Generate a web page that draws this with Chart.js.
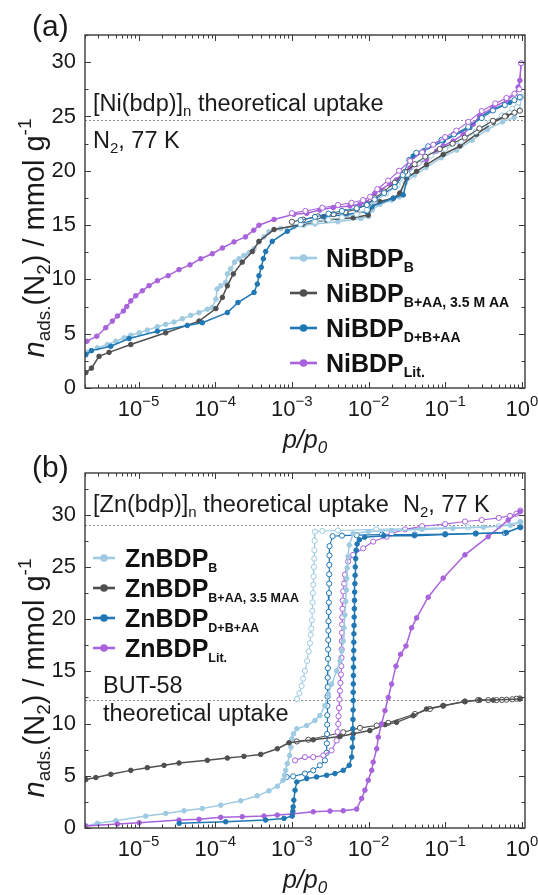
<!DOCTYPE html>
<html><head><meta charset="utf-8">
<script src="https://cdn.jsdelivr.net/npm/chart.js@4.4.1/dist/chart.umd.min.js"></script>
<style>
html,body{margin:0;padding:0;background:#fff;}
#wrap{position:relative;width:538px;height:895px;overflow:hidden;background:#fff}
canvas{position:absolute;left:0}
</style></head><body>
<div id="wrap">
<canvas id="chartA" width="538" height="462" style="top:0px;z-index:1"></canvas>
<canvas id="chartB" width="538" height="448" style="top:447px;z-index:2"></canvas>
</div>
<script>
// ---------- DATA (p/p0, n in mmol/g) ----------
// Panel (a) NiBDP
const niB_ads = [[2.15e-6,3.28],[2.90e-6,3.69],[3.92e-6,4.00],[5.05e-6,4.30],[6.47e-6,4.62],[7.91e-6,4.86],[1.02e-5,5.08],[1.30e-5,5.33],[1.76e-5,5.64],[2.26e-5,5.86],[2.90e-5,6.07],[3.72e-5,6.38],[4.79e-5,6.69],[6.15e-5,6.94],[7.89e-5,7.25],[9.16e-5,7.41],[1.02e-4,8.18],[1.06e-4,9.11],[1.18e-4,9.41],[1.37e-4,9.73],[1.44e-4,10.50],[1.59e-4,10.97],[1.79e-4,11.59],[2.04e-4,11.90],[2.37e-4,12.20],[2.76e-4,12.45],[3.21e-4,12.83],[3.72e-4,13.45],[4.32e-4,13.91],[5.02e-4,14.38],[7.14e-4,14.68],[1.06e-3,14.84],[1.44e-3,14.99],[2.0e-3,15.1],[3.98e-3,15.3],[7.94e-3,15.6],[1.0e-2,15.8],[1.12e-2,16.4],[1.41e-2,16.9],[2.0e-2,17.3],[2.51e-2,17.6],[3.02e-2,18.9],[3.98e-2,19.6],[5.62e-2,20.3],[8.91e-2,21.2],[0.141,21.9],[0.224,22.8],[0.355,23.8],[0.562,24.5],[0.794,24.9],[0.933,25.6],[0.977,26.8]];
const niB_des = [[0.977,26.8],[0.9,26.3],[0.75,25.7],[0.55,25.1],[0.38,24.4],[0.25,23.6],[0.16,22.7],[0.1,22.0],[0.065,21.4],[0.045,20.7],[0.032,19.7],[0.024,18.7],[0.017,17.9],[0.012,17.2],[0.0095,16.4],[0.007,16.0],[0.0045,15.7],[0.003,15.5],[0.002,15.3],[0.0013,15.1]];
const niAA_ads = [[2.05e-6,1.42],[2.43e-6,1.83],[3.05e-6,2.91],[4.12e-6,3.28],[7.91e-6,4.00],[2.26e-5,5.08],[6.15e-5,6.16],[1.02e-4,7.31],[1.24e-4,8.34],[1.44e-4,9.41],[1.72e-4,10.50],[2.25e-4,11.59],[3.05e-4,12.57],[3.72e-4,13.50],[5.85e-4,14.59],[1.37e-3,15.08],[2.84e-3,15.46],[6.31e-3,15.68],[9.91e-3,15.92],[1.10e-2,16.70],[1.40e-2,17.17],[2.10e-2,17.47],[2.56e-2,17.94],[3.14e-2,19.33],[4.24e-2,19.95],[5.71e-2,20.57],[9.42e-2,21.50],[0.156,22.28],[0.256,23.36],[0.423,24.44],[0.632,25.06],[0.942,25.53]];
const niAA_des = [[0.942,25.53],[0.8,25.35],[0.6,25.0],[0.42,24.6],[0.28,23.9],[0.18,23.05],[0.125,22.5],[0.085,22.0],[0.055,21.3],[0.04,20.6],[0.03,19.9],[0.022,18.9],[0.016,18.1],[0.012,17.5],[0.0095,16.9],[0.007,16.45],[0.005,16.2],[0.0035,16.0],[0.0022,15.8],[0.0014,15.5],[0.001,15.3]];
const niDBA_ads = [[2.05e-6,3.07],[2.43e-6,3.44],[4.34e-6,3.84],[7.52e-6,4.55],[1.76e-5,5.23],[4.32e-5,5.76],[6.79e-5,6.01],[1.44e-4,6.94],[1.98e-4,7.87],[3.21e-4,8.80],[3.54e-4,9.57],[3.72e-4,10.34],[3.99e-4,11.12],[4.24e-4,11.90],[4.55e-4,12.57],[5.55e-4,13.50],[8.71e-4,14.43],[1.30e-3,15.06],[2.56e-3,15.77],[5.18e-3,15.98],[9.44e-3,16.24],[1.10e-2,16.70],[2.10e-2,17.47],[2.84e-2,17.78],[3.30e-2,19.64],[3.83e-2,21.35],[5.16e-2,21.81],[9.42e-2,22.74],[0.210,23.98],[0.283,24.91],[0.423,25.68],[0.697,26.30],[0.942,26.77]];
const niDBA_des = [[0.942,26.77],[0.8,26.5],[0.6,26.05],[0.42,25.55],[0.3,24.85],[0.2,24.05],[0.13,23.35],[0.09,22.85],[0.06,22.25],[0.042,21.65],[0.034,21.0],[0.028,19.6],[0.022,18.5],[0.016,17.95],[0.012,17.35],[0.0095,16.85],[0.007,16.55],[0.0045,16.3],[0.003,16.05],[0.002,15.75],[0.0013,15.45]];
const niLit_ads = [[2.11e-6,4.30],[2.85e-6,4.77],[3.73e-6,5.55],[4.55e-6,6.16],[5.30e-6,6.63],[6.34e-6,7.09],[7.01e-6,7.50],[7.91e-6,8.02],[9.18e-6,8.49],[1.12e-5,8.95],[1.37e-5,9.42],[1.76e-5,9.88],[2.43e-5,10.34],[3.37e-5,10.90],[4.69e-5,11.34],[6.47e-5,11.90],[9.16e-5,12.36],[1.24e-4,12.89],[1.76e-4,13.45],[2.48e-4,13.91],[3.18e-4,14.53],[3.72e-4,14.99],[5.85e-4,15.52],[1.06e-3,15.99],[1.56e-3,16.08],[2.32e-3,16.38],[3.47e-3,16.61],[5.71e-3,16.76],[7.71e-3,16.91],[9.44e-3,17.10],[1.10e-2,17.63],[1.21e-2,17.94],[1.41e-2,18.24],[1.90e-2,18.77],[2.32e-2,19.17],[2.83e-2,19.80],[3.47e-2,20.26],[4.24e-2,20.57],[5.71e-2,21.03],[7.73e-2,21.81],[9.42e-2,22.28],[0.127,22.74],[0.172,23.36],[0.232,24.28],[0.283,25.07],[0.423,25.84],[0.632,26.46],[0.811,27.07],[0.895,27.70],[0.942,28.32],[0.977,29.9]];
const niLit_des = [[0.977,29.9],[0.93,27.5],[0.8,27.1],[0.63,26.7],[0.45,26.2],[0.3,25.5],[0.2,24.5],[0.14,23.7],[0.1,23.1],[0.07,22.4],[0.05,21.7],[0.035,20.9],[0.025,20.0],[0.018,19.1],[0.013,18.3],[0.0105,17.6],[0.0085,17.3],[0.006,17.05],[0.004,16.85],[0.0025,16.6],[0.0015,16.3],[0.001,16.1]];

// Panel (b) ZnBDP
const znB_ads = [[2.05e-6,0.19],[2.90e-6,0.45],[5.05e-6,0.70],[1.24e-5,1.14],[2.26e-5,1.40],[3.92e-5,1.65],[6.79e-5,1.87],[1.18e-4,2.19],[2.15e-4,2.60],[3.54e-4,3.08],[5.02e-4,3.56],[6.46e-4,4.00],[7.66e-4,4.57],[8.05e-4,5.05],[8.30e-4,5.52],[8.71e-4,6.16],[9.35e-4,6.95],[9.73e-4,7.74],[1.0e-3,8.54],[1.05e-3,9.02],[1.16e-3,9.50],[1.56e-3,9.81],[2.00e-3,10.29],[2.32e-3,10.76],[2.70e-3,11.71],[2.99e-3,12.83],[3.30e-3,13.78],[3.84e-3,15.05],[4.24e-3,16.0],[4.46e-3,16.95],[4.68e-3,17.9],[4.78e-3,19.17],[4.92e-3,20.4],[5.04e-3,21.7],[5.13e-3,22.8],[5.20e-3,23.9],[5.27e-3,24.9],[5.40e-3,26.0],[5.60e-3,27.1],[6.31e-3,28.2],[1.0e-2,28.4],[2.0e-2,28.5],[5.0e-2,28.6],[0.126,28.7],[0.316,28.8],[0.708,29.0],[0.955,29.3]];
const znB_des = [[0.955,29.3],[0.5,28.9],[0.2,28.8],[0.05,28.7],[0.0126,28.6],[0.004,28.5],[0.0025,28.45],[2.0e-3,28.38],[1.98e-3,27.5],[1.97e-3,26.6],[1.96e-3,25.8],[1.94e-3,25.0],[1.92e-3,24.1],[1.90e-3,23.3],[1.88e-3,22.5],[1.86e-3,21.6],[1.85e-3,20.8],[1.82e-3,19.9],[1.79e-3,19.1],[1.76e-3,18.5],[1.72e-3,17.7],[1.66e-3,16.9],[1.58e-3,16.0],[1.48e-3,15.05],[1.40e-3,14.3],[1.34e-3,13.6],[1.25e-3,12.9],[1.17e-3,12.35]];
const znAA_ads = [[2.05e-6,4.64],[2.77e-6,4.83],[4.34e-6,5.14],[7.91e-6,5.52],[1.30e-5,5.78],[2.15e-5,6.00],[3.37e-5,6.22],[7.89e-5,6.48],[1.44e-4,6.70],[2.37e-4,6.86],[3.92e-4,7.05],[6.46e-4,7.59],[9.16e-4,8.16],[1.90e-3,8.45],[4.24e-3,8.76],[6.31e-3,9.02],[1.04e-2,9.33],[1.64e-2,9.90],[2.32e-2,10.12],[3.83e-2,10.76],[5.71e-2,11.40],[9.42e-2,11.71],[0.181,12.12],[0.283,12.25],[0.423,12.25],[0.942,12.35]];
const znAA_des = [[0.942,12.41],[0.85,12.38],[0.75,12.33],[0.632,12.29],[0.55,12.27],[0.468,12.25],[0.364,12.25],[0.269,12.25],[0.181,12.12],[0.0942,11.71],[0.0632,11.40],[0.0403,10.92],[0.0181,10.07],[0.0128,9.81],[0.00773,9.59],[0.00468,9.17],[0.00164,8.45],[0.00116,8.29]];
const znDBA_ads = [[3.39e-5,0.45],[1.37e-4,0.60],[4.55e-4,0.76],[7.89e-4,0.92],[1.01e-3,1.14],[1.03e-3,1.6],[1.04e-3,2.03],[1.06e-3,2.67],[1.10e-3,3.62],[1.16e-3,4.41],[1.56e-3,4.73],[2.10e-3,4.89],[2.84e-3,5.05],[3.65e-3,5.21],[4.68e-3,5.52],[5.60e-3,6.0],[6.03e-3,6.79],[6.14e-3,7.74],[6.21e-3,8.6],[6.24e-3,9.5],[6.27e-3,10.4],[6.29e-3,11.3],[6.31e-3,12.2],[6.31e-3,13.0],[6.33e-3,13.8],[6.35e-3,14.6],[6.37e-3,15.4],[6.39e-3,16.2],[6.41e-3,17.0],[6.43e-3,17.8],[6.45e-3,18.6],[6.47e-3,19.4],[6.50e-3,20.2],[6.53e-3,21.0],[6.56e-3,21.8],[6.60e-3,22.6],[6.64e-3,23.4],[6.68e-3,24.2],[6.72e-3,25.0],[6.80e-3,25.8],[6.90e-3,26.6],[7.1e-3,27.2],[7.6e-3,27.6],[8.91e-3,27.85],[1.58e-2,28.0],[3.98e-2,28.0],[0.1,28.1],[0.251,28.2],[0.631,28.3],[0.955,28.8]];
const znDBA_des = [[0.955,28.8],[0.6,28.25],[0.25,28.2],[0.1,28.15],[0.04,28.1],[0.015,28.1],[0.007,28.05],[0.0045,28.0],[0.0034,27.95],[3.10e-3,27.0],[3.09e-3,26.1],[3.08e-3,25.2],[3.07e-3,24.3],[3.06e-3,23.4],[3.05e-3,22.5],[3.04e-3,21.6],[3.02e-3,20.7],[3.00e-3,19.8],[2.99e-3,18.9],[2.98e-3,18.0],[2.97e-3,17.1],[2.96e-3,16.2],[2.95e-3,15.3],[2.94e-3,14.4],[2.93e-3,13.5],[2.92e-3,12.6],[2.91e-3,11.7],[2.90e-3,10.8],[2.89e-3,9.9],[2.88e-3,9.0],[2.86e-3,8.1],[2.84e-3,7.2],[2.70e-3,6.48],[2.32e-3,6.0],[1.90e-3,5.52],[1.48e-3,5.21],[1.04e-3,4.95],[8.55e-4,4.89]];
const znLit_ads = [[2.05e-6,0.19],[5.30e-6,0.38],[1.02e-5,0.51],[3.37e-5,0.76],[6.15e-5,0.83],[1.18e-4,1.02],[2.25e-4,1.08],[4.32e-4,1.14],[6.46e-4,1.24],[1.01e-3,1.33],[1.90e-3,1.55],[3.14e-3,1.62],[4.68e-3,1.65],[7.00e-3,1.81],[8.13e-3,2.83],[8.97e-3,3.62],[9.91e-3,4.57],[1.10e-2,5.52],[1.15e-2,6.31],[1.28e-2,7.59],[1.34e-2,8.70],[1.48e-2,9.97],[1.64e-2,11.24],[1.81e-2,12.5],[2.00e-2,13.78],[2.28e-2,15.5],[2.62e-2,16.64],[3.08e-2,17.43],[3.65e-2,19.17],[4.24e-2,20.12],[6.00e-2,22.1],[9.42e-2,23.93],[0.181,26.16],[0.364,27.9],[0.664,29.49],[0.955,30.3]];
const znLit_des = [[0.955,30.4],[0.85,30.1],[0.7,29.9],[0.5,29.7],[0.3,29.5],[0.181,29.35],[0.1,29.1],[0.05,28.9],[0.03,28.6],[0.02,28.2],[0.0172,27.9],[0.0115,27.43],[0.00853,26.79],[0.00631,26.16],[0.00543,25.52],[4.92e-3,24.26],[4.80e-3,23.4],[4.68e-3,22.67],[4.62e-3,21.8],[4.57e-3,21.0],[4.54e-3,20.2],[4.52e-3,19.5],[4.50e-3,18.7],[4.48e-3,17.9],[4.46e-3,17.1],[4.44e-3,16.3],[4.42e-3,15.5],[4.37e-3,14.7],[4.30e-3,13.9],[4.24e-3,13.14],[4.18e-3,12.3],[4.12e-3,11.5],[4.06e-3,10.7],[4.03e-3,9.97],[3.95e-3,9.2],[3.84e-3,8.38],[3.30e-3,7.43],[2.57e-3,6.95],[1.90e-3,6.79],[1.48e-3,6.79],[1.10e-3,6.48]];

// axes / labels
const xTickExponents = [-5, -4, -3, -2, -1, 0];
const yTickValues = [0, 5, 10, 15, 20, 25, 30];
const legendBase_a = 'NiBDP';
const legendSubs_a = ['B', 'B+AA, 3.5 M AA', 'D+B+AA', 'Lit.'];
const legendBase_b = 'ZnBDP';
const legendSubs_b = ['B', 'B+AA, 3.5 MAA', 'D+B+AA', 'Lit.'];
const refLines_a = [24.7];
const refLines_b = [29.0, 12.3];

// ---------- STYLE ----------
const FONT = "'Liberation Sans', Arial, Helvetica, sans-serif";
const C_LB = '#9ecae2', C_GR = '#4f4f4f', C_BL = '#1f77b4', C_PU = '#a862dc';
const COLORS = [C_LB, C_GR, C_BL, C_PU];
const TXT = '#1a1a1a', FRAME = '#3a3a3a';
const X_MIN = 2.0e-6, X_MAX = 1.1;

const toPts = arr => arr.map(([p, n]) => ({ x: p, y: n }));
function series(arr, color, open, order) {
  return {
    data: toPts(arr), showLine: true, tension: 0, order,
    borderColor: color, backgroundColor: open ? '#ffffff' : color,
    pointBackgroundColor: open ? '#ffffff' : color, pointBorderColor: color,
    pointRadius: open ? 2.6 : 2.3, pointBorderWidth: 1, pointHoverRadius: 0,
    borderWidth: open ? 1.1 : 1.5
  };
}
const f = (size, style) => (style ? style + ' ' : '') + size + 'px ' + FONT;

function drawRich(ctx, x, y, parts, align) {
  let w = 0;
  for (const p of parts) { ctx.font = p.f; w += ctx.measureText(p.t).width; }
  let cx = align === 'center' ? x - w / 2 : (align === 'right' ? x - w : x);
  ctx.textAlign = 'left'; ctx.textBaseline = 'alphabetic';
  for (const p of parts) { ctx.font = p.f; ctx.fillText(p.t, cx, y + (p.dy || 0)); cx += ctx.measureText(p.t).width; }
}

const PANELS = {
  chartA: {
    letter: '(a)', letterY: 36, refLines: refLines_a, yTitleCenter: 238,
    texts: [
      { x: 93, y: 111, parts: [{ t: '[Ni(bdp)]', f: f(23.5) }, { t: 'n', f: f(15), dy: 5 }, { t: ' theoretical uptake', f: f(23.5) }] },
      { x: 93, y: 148, parts: [{ t: 'N', f: f(23.5) }, { t: '2', f: f(15), dy: 5 }, { t: ', 77 K', f: f(23.5) }] }
    ],
    legend: { rows: [258, 293, 328, 363], x0: 290, x1: 317, tx: 326, base: legendBase_a, subs: legendSubs_a, mainSize: 25, subSize: 14 }
  },
  chartB: {
    letter: '(b)', letterY: 30, refLines: refLines_b, yTitleCenter: 231,
    texts: [
      { x: 93, y: 65, parts: [{ t: '[Zn(bdp)]', f: f(23.5) }, { t: 'n', f: f(15), dy: 5 }, { t: ' theoretical uptake', f: f(23.5) }] },
      { x: 403, y: 65, parts: [{ t: 'N', f: f(23.5) }, { t: '2', f: f(15), dy: 5 }, { t: ', 77 K', f: f(23.5) }] },
      { x: 103, y: 246, parts: [{ t: 'BUT-58', f: f(23.5) }] },
      { x: 103, y: 274, parts: [{ t: 'theoretical uptake', f: f(23.5) }] }
    ],
    legend: { rows: [111, 141, 171, 201], x0: 93, x1: 115, tx: 125, base: legendBase_b, subs: legendSubs_b, mainSize: 25, subSize: 12.5 }
  }
};

function seg(ctx, x1, y1, x2, y2) { ctx.beginPath(); ctx.moveTo(x1, y1); ctx.lineTo(x2, y2); ctx.stroke(); }

const panelPlugin = {
  id: 'panelDecor',
  beforeDatasetsDraw(chart) {
    const P = PANELS[chart.canvas.id]; const { ctx, chartArea: a } = chart; const y = chart.scales.y;
    ctx.save(); ctx.strokeStyle = '#8c8c8c'; ctx.lineWidth = 1; ctx.setLineDash([2, 2]);
    for (const v of P.refLines) { const py = Math.round(y.getPixelForValue(v)) + 0.5; seg(ctx, a.left, py, a.right, py); }
    ctx.restore();
  },
  afterDraw(chart) {
    const P = PANELS[chart.canvas.id]; const { ctx, chartArea: a } = chart; const x = chart.scales.x, y = chart.scales.y;
    ctx.save();
    // frame
    ctx.strokeStyle = FRAME; ctx.lineWidth = 1.4; ctx.setLineDash([]);
    ctx.strokeRect(a.left, a.top, a.right - a.left, a.bottom - a.top);
    // inward ticks
    ctx.lineWidth = 1;
    for (let k = -6; k <= 0; k++) for (let m = 1; m <= 9; m++) {
      const v = m * Math.pow(10, k); if (v < X_MIN || v > X_MAX) continue;
      const px = Math.round(x.getPixelForValue(v)) + 0.5; const L = m === 1 ? 6 : 3.5;
      seg(ctx, px, a.bottom, px, a.bottom - L); seg(ctx, px, a.top, px, a.top + L);
    }
    for (let v = 0; v <= y.max; v += 2.5) {
      const py = Math.round(y.getPixelForValue(v)) + 0.5; const L = (v % 5 === 0) ? 6 : 3.5;
      seg(ctx, a.left, py, a.left + L, py); seg(ctx, a.right, py, a.right - L, py);
    }
    // x tick labels
    ctx.fillStyle = TXT;
    for (const e of xTickExponents) {
      const px = x.getPixelForValue(Math.pow(10, e));
      const sup = e === 0 ? '0' : '\u2212' + Math.abs(e);
      drawRich(ctx, px, a.bottom + 28, [{ t: '10', f: f(22) }, { t: sup, f: f(15), dy: -10 }], 'center');
    }
    // x title
    drawRich(ctx, (a.left + a.right) / 2, a.bottom + 60, [{ t: 'p/p', f: f(25, 'italic') }, { t: '0', f: f(17, 'italic'), dy: 5 }], 'center');
    // y title
    ctx.save(); ctx.translate(44, P.yTitleCenter); ctx.rotate(-Math.PI / 2);
    drawRich(ctx, 0, 0, [{ t: 'n', f: f(29, 'italic') }, { t: 'ads.', f: f(19), dy: 6 }, { t: '(N', f: f(29) }, { t: '2', f: f(19), dy: 6 }, { t: ') / mmol g', f: f(29) }, { t: '-1', f: f(19), dy: -13 }], 'center');
    ctx.restore();
    // panel letter
    drawRich(ctx, 32, P.letterY, [{ t: P.letter, f: f(30) }], 'left');
    // annotations
    for (const T of P.texts) drawRich(ctx, T.x, T.y, T.parts, 'left');
    // legend
    const L = P.legend;
    L.rows.forEach((yc, i) => {
      ctx.strokeStyle = COLORS[i]; ctx.lineWidth = 2.6; seg(ctx, L.x0, yc, L.x1, yc);
      ctx.fillStyle = COLORS[i]; ctx.beginPath(); ctx.arc((L.x0 + L.x1) / 2, yc, 3.8, 0, Math.PI * 2); ctx.fill();
      ctx.fillStyle = '#111';
      drawRich(ctx, L.tx, yc + 8.5, [{ t: L.base, f: f(L.mainSize, 'bold') }, { t: L.subs[i], f: f(L.subSize, 'bold'), dy: 5 }], 'left');
    });
    ctx.restore();
  }
};

function makeChart(id, datasets, top, xh, ymax) {
  return new Chart(document.getElementById(id), {
    type: 'scatter',
    data: { datasets },
    options: {
      responsive: false, animation: false, devicePixelRatio: 1, events: [],
      layout: { padding: { left: 0, right: 13, top: top, bottom: 0 } },
      plugins: { legend: { display: false }, tooltip: { enabled: false } },
      scales: {
        x: { type: 'logarithmic', min: X_MIN, max: X_MAX, grid: { display: false, drawTicks: false }, border: { display: false }, ticks: { display: false }, afterFit(s) { s.height = xh; } },
        y: { type: 'linear', min: 0, max: ymax, grid: { display: false, drawTicks: false }, border: { display: false },
             ticks: { stepSize: 5, includeBounds: false, padding: 9, color: TXT, font: { family: FONT, size: 22 },
                      callback: v => (yTickValues.includes(v) ? String(v) : '') },
             afterFit(s) { s.width = 85; } }
      }
    },
    plugins: [panelPlugin]
  });
}

makeChart('chartA', [
  series(niLit_des, C_PU, true, 0), series(niDBA_des, C_BL, true, 1), series(niAA_des, C_GR, true, 2), series(niB_des, C_LB, true, 3),
  series(niLit_ads, C_PU, false, 4), series(niDBA_ads, C_BL, false, 5), series(niAA_ads, C_GR, false, 6), series(niB_ads, C_LB, false, 7)
], 35, 74, 32.5);

makeChart('chartB', [
  series(znDBA_ads, C_BL, false, 0), series(znLit_ads, C_PU, false, 1), series(znAA_ads, C_GR, false, 2), series(znB_ads, C_LB, false, 3),
  series(znLit_des, C_PU, true, 4), series(znDBA_des, C_BL, true, 5), series(znAA_des, C_GR, true, 6), series(znB_des, C_LB, true, 7)
], 26, 67, 34);
</script>
</body></html>
